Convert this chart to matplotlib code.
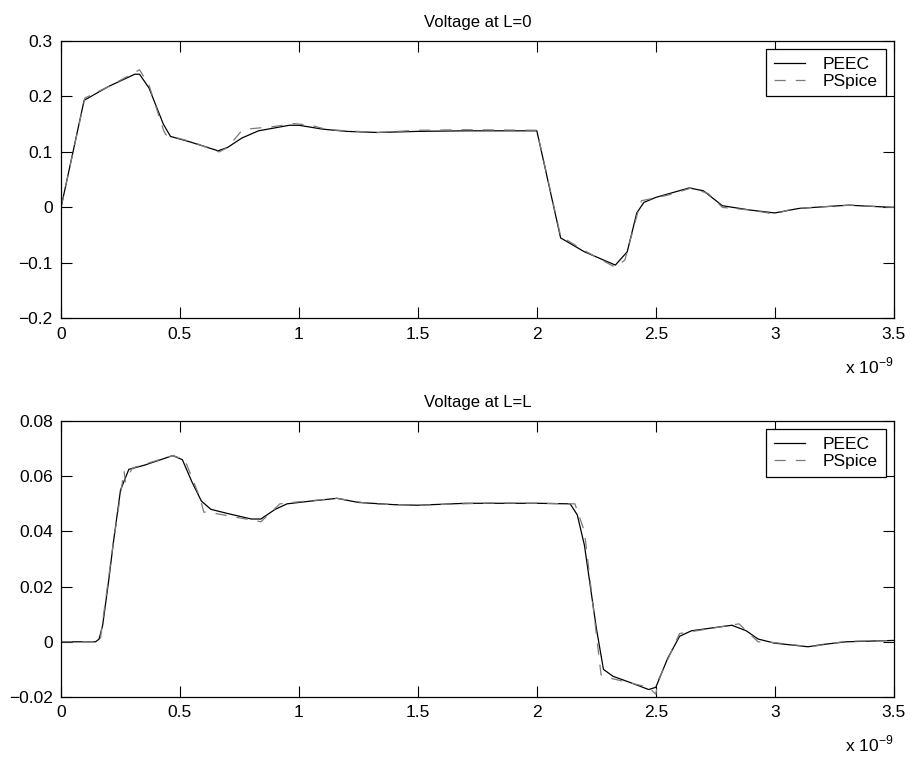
import matplotlib
matplotlib.use("Agg")
import matplotlib.pyplot as plt
import numpy as np

plt.rcParams['font.family'] = ['Liberation Sans', 'DejaVu Sans']

# ---- data (time in ns, i.e. x 10^-9 s) ----
top_peec_t = [0, 0.097, 0.2, 0.31, 0.33, 0.37, 0.43, 0.46, 0.55, 0.66, 0.70, 0.76, 0.83, 0.96, 1.0,
              1.1, 1.2, 1.33, 1.5, 1.7, 2.0, 2.10, 2.20, 2.33, 2.38, 2.42, 2.45, 2.5, 2.64, 2.7,
              2.78, 2.9, 3.0, 3.1, 3.2, 3.31, 3.4, 3.5]
top_peec_v = [0, 0.193, 0.218, 0.240, 0.240, 0.215, 0.150, 0.128, 0.117, 0.102, 0.108, 0.125, 0.138,
              0.148, 0.148, 0.141, 0.137, 0.135, 0.137, 0.138, 0.138, -0.055, -0.080, -0.104, -0.080,
              -0.010, 0.009, 0.018, 0.035, 0.030, 0.003, -0.005, -0.010, -0.002, 0.001, 0.004, 0.002, 0.0]

top_pspice_t = [0, 0.1, 0.21, 0.33, 0.37, 0.43, 0.44, 0.55, 0.665, 0.70, 0.755, 0.78, 0.9, 0.98,
                1.05, 1.12, 1.33, 1.5, 1.7, 2.0, 2.10, 2.2, 2.33, 2.37, 2.43, 2.44, 2.55, 2.65,
                2.72, 2.78, 2.9, 3.0, 3.08, 3.2, 3.32, 3.5]
top_pspice_v = [0, 0.197, 0.220, 0.248, 0.220, 0.140, 0.131, 0.118, 0.100, 0.108, 0.136, 0.141,
                0.146, 0.151, 0.148, 0.140, 0.135, 0.139, 0.140, 0.139, -0.052, -0.078, -0.108,
                -0.095, 0.0, 0.012, 0.022, 0.035, 0.025, 0.000, -0.005, -0.012, -0.002, 0.001, 0.004, 0.0]

bot_peec_t = [0, 0.145, 0.16, 0.175, 0.2, 0.22, 0.25, 0.285, 0.35, 0.47, 0.51, 0.55, 0.59, 0.63,
              0.7, 0.8, 0.84, 0.9, 0.95, 1.05, 1.16, 1.25, 1.4, 1.5, 1.7, 2.0, 2.14, 2.17, 2.2,
              2.25, 2.28, 2.32, 2.4, 2.47, 2.5, 2.55, 2.6, 2.65, 2.82, 2.88, 2.93, 3.0, 3.14,
              3.2, 3.3, 3.5]
bot_peec_v = [0, 0, 0.001, 0.006, 0.022, 0.036, 0.055, 0.0625, 0.064, 0.0675, 0.066, 0.058, 0.051,
              0.048, 0.0465, 0.0445, 0.0445, 0.048, 0.050, 0.051, 0.052, 0.0505, 0.0497, 0.0495,
              0.0502, 0.0502, 0.0500, 0.046, 0.035, 0.005, -0.010, -0.0125, -0.0150, -0.0173,
              -0.0165, -0.006, 0.002, 0.004, 0.006, 0.004, 0.001, -0.0005, -0.0018, -0.001, 0.0, 0.0005]

bot_pspice_t = [0, 0.165, 0.168, 0.22, 0.265, 0.27, 0.30, 0.47, 0.52, 0.585, 0.60, 0.61, 0.65,
                0.84, 0.92, 0.97, 1.16, 1.3, 1.5, 1.8, 2.0, 2.16, 2.2, 2.27, 2.30, 2.47, 2.50,
                2.51, 2.6, 2.85, 2.93, 3.0, 3.15, 3.3, 3.5]
bot_pspice_v = [0, 0, 0.003, 0.036, 0.062, 0.058, 0.063, 0.0675, 0.066, 0.052, 0.047, 0.047, 0.0465,
                0.0435, 0.050, 0.0505, 0.0520, 0.0500, 0.0495, 0.0503, 0.0502, 0.0500, 0.040, -0.012,
                -0.013, -0.0165, -0.019, -0.014, 0.003, 0.0065, 0.0, -0.0003, -0.0018, 0.0002, 0.0004]

titles = ["Voltage at L=0", "Voltage at L=L"]
ylims = [(-0.2, 0.3), (-0.02, 0.08)]
yticks = [[-0.2, -0.1, 0, 0.1, 0.2, 0.3], [-0.02, 0, 0.02, 0.04, 0.06, 0.08]]
ytick_labels = [["\u22120.2", "\u22120.1", "0", "0.1", "0.2", "0.3"],
                ["\u22120.02", "0", "0.02", "0.04", "0.06", "0.08"]]
xticks = [0, 0.5, 1, 1.5, 2, 2.5, 3, 3.5]
xtick_labels = ["0", "0.5", "1", "1.5", "2", "2.5", "3", "3.5"]
series_labels = ["PEEC", "PSpice"]

fs = 12.5
fig = plt.figure(figsize=(9.11, 7.58), dpi=100)
positions = [[0.067, 0.580, 0.914, 0.366], [0.067, 0.0805, 0.914, 0.364]]
data = [(top_peec_t, top_peec_v, top_pspice_t, top_pspice_v),
        (bot_peec_t, bot_peec_v, bot_pspice_t, bot_pspice_v)]

for i in range(2):
    ax = fig.add_axes(positions[i])
    pt, pv, st, sv = data[i]
    ax.plot(pt, pv, color='black', lw=0.9, label=series_labels[0])
    ax.plot(st, sv, color='#7a7a7a', lw=0.9, linestyle=(0, (9, 8)), label=series_labels[1])
    ax.set_xlim(0, 3.5)
    ax.set_ylim(*ylims[i])
    ax.set_xticks(xticks)
    ax.set_xticklabels(xtick_labels, fontsize=fs)
    ax.set_yticks(yticks[i])
    ax.set_yticklabels(ytick_labels[i], fontsize=fs)
    ax.tick_params(direction='in', length=8, width=0.8, top=True, right=True, pad=6)
    for s in ax.spines.values():
        s.set_linewidth(0.9)
    ax.set_title(titles[i], fontsize=12, pad=10)
    leg = ax.legend(loc='upper right', fontsize=fs, fancybox=False, framealpha=1,
                    edgecolor='black', handlelength=1.8, borderaxespad=0.45,
                    labelspacing=0.1, borderpad=0.45, handletextpad=1.05)
    leg.get_frame().set_linewidth(0.9)
    ax.text(1.0, -0.199, r"x 10$^{\mathregular{-9}}$", transform=ax.transAxes,
            ha='right', va='baseline', fontsize=fs)

fig.savefig("out.png", dpi=100)
